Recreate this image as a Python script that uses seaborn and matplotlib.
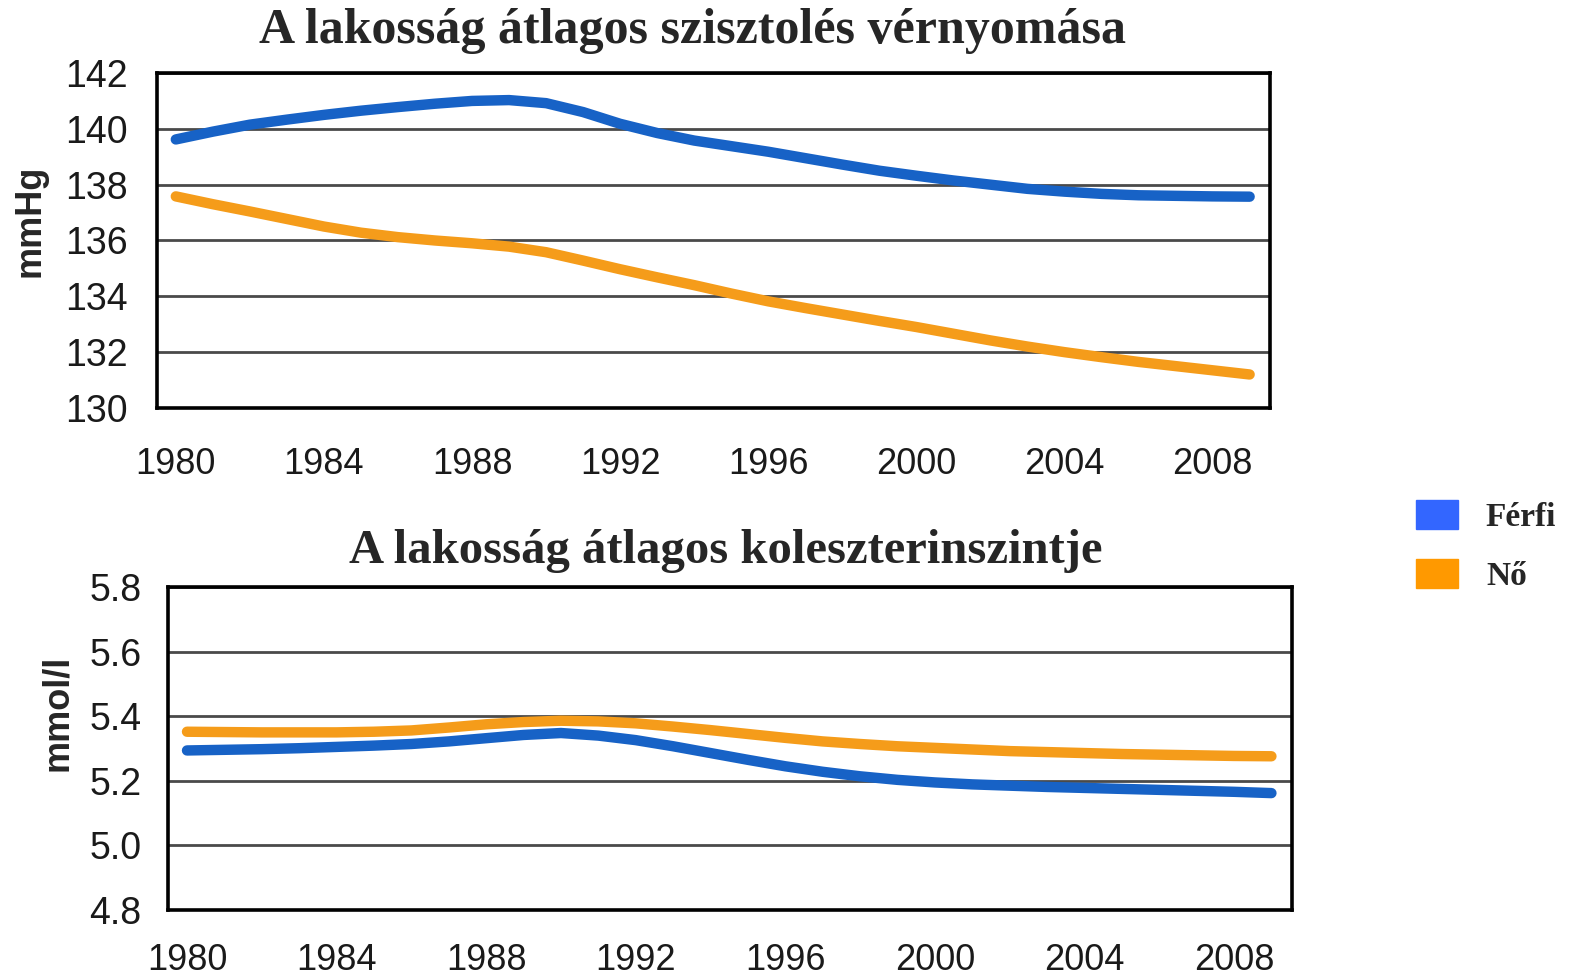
import numpy as np
import pandas as pd
import matplotlib.pyplot as plt
import seaborn as sns
from matplotlib.patches import Patch

# Data (one value per year)
years = list(range(1980, 2010))

bp_ferfi = [139.62, 139.90, 140.15, 140.33, 140.50, 140.65, 140.78, 140.90, 141.00, 141.03,
            140.92, 140.60, 140.18, 139.85, 139.58, 139.38, 139.18, 138.95, 138.72, 138.50,
            138.32, 138.15, 138.00, 137.85, 137.75, 137.67, 137.62, 137.60, 137.58, 137.57]
bp_no = [137.58, 137.30, 137.04, 136.77, 136.50, 136.28, 136.12, 136.00, 135.90, 135.78,
         135.58, 135.28, 134.97, 134.68, 134.40, 134.10, 133.82, 133.58, 133.35, 133.12,
         132.90, 132.66, 132.42, 132.20, 132.00, 131.82, 131.65, 131.50, 131.35, 131.20]

chol_ferfi = [5.294, 5.296, 5.298, 5.301, 5.305, 5.309, 5.314, 5.322, 5.332, 5.342,
              5.348, 5.340, 5.326, 5.307, 5.286, 5.265, 5.245, 5.228, 5.214, 5.203,
              5.195, 5.189, 5.185, 5.181, 5.178, 5.175, 5.172, 5.169, 5.166, 5.162]
chol_no = [5.352, 5.351, 5.350, 5.350, 5.350, 5.352, 5.356, 5.365, 5.375, 5.382,
           5.386, 5.384, 5.378, 5.368, 5.357, 5.345, 5.333, 5.322, 5.314, 5.307,
           5.302, 5.297, 5.292, 5.289, 5.286, 5.283, 5.281, 5.279, 5.277, 5.276]

series_names = ['Férfi', 'Nő']
line_colors = ['#1762c6', '#f59c1a']
legend_colors = ['#3366ff', '#ff9900']

x_ticks = [1980, 1984, 1988, 1992, 1996, 2000, 2004, 2008]
bp_ticks = [130, 132, 134, 136, 138, 140, 142]
chol_ticks = [4.8, 5.0, 5.2, 5.4, 5.6, 5.8]

bp_title = 'A lakosság átlagos szisztolés vérnyomása'
chol_title = 'A lakosság átlagos koleszterinszintje'

# long-form tables for seaborn
bp_df = pd.DataFrame({
    'Év': years * 2,
    'Érték': bp_ferfi + bp_no,
    'Nem': [series_names[0]] * len(years) + [series_names[1]] * len(years),
})
chol_df = pd.DataFrame({
    'Év': years * 2,
    'Érték': chol_ferfi + chol_no,
    'Nem': [series_names[0]] * len(years) + [series_names[1]] * len(years),
})

sns.set_style('white')
plt.rcParams['font.family'] = ['Liberation Sans', 'DejaVu Sans']

palette = dict(zip(series_names, line_colors))

fig = plt.figure(figsize=(15.71, 9.8), dpi=100)
ax1 = fig.add_axes([0.0999, 0.5837, 0.7085, 0.3418])
ax2 = fig.add_axes([0.1069, 0.0714, 0.7155, 0.3296])


def style_axes(ax, yticks, fmt, ylabel, label_x, label_y, xpad, ypad):
    ax.set_xlim(1979.49, 2009.55)
    ax.set_ylim(yticks[0], yticks[-1])
    ax.set_xticks(x_ticks)
    ax.set_xticklabels([str(t) for t in x_ticks])
    ax.set_yticks(yticks)
    ax.set_yticklabels([fmt.format(t) for t in yticks])
    ax.grid(axis='y', color='#4a4a4a', linewidth=2.0)
    ax.set_axisbelow(True)
    for sp in ax.spines.values():
        sp.set_visible(True)
        sp.set_color('black')
        sp.set_linewidth(2.6)
    ax.tick_params(axis='x', length=0, pad=xpad, labelsize=26, colors='#1a1a1a')
    ax.tick_params(axis='y', length=0, pad=ypad, labelsize=27, colors='#1a1a1a')
    ax.set_xlabel('')
    ax.set_ylabel(ylabel, fontsize=26, fontweight='bold')
    ax.yaxis.set_label_coords(label_x, label_y)
    for line in ax.lines:
        line.set_solid_capstyle('round')
        line.set_solid_joinstyle('round')


sns.lineplot(data=bp_df, x='Év', y='Érték', hue='Nem', palette=palette,
             linewidth=7.5, legend=False, ax=ax1)
style_axes(ax1, bp_ticks, '{:d}', 'mmHg', -0.098, 0.56, 28, 21)

sns.lineplot(data=chol_df, x='Év', y='Érték', hue='Nem', palette=palette,
             linewidth=7.5, legend=False, ax=ax2)
style_axes(ax2, chol_ticks, '{:.1f}', 'mmol/l', -0.083, 0.61, 24, 19)

fig.text(0.441, 0.968, bp_title, ha='center', va='center', fontsize=36,
         fontweight='bold', family=['Liberation Serif', 'DejaVu Serif'])
fig.text(0.462, 0.438, chol_title, ha='center', va='center', fontsize=35,
         fontweight='bold', family=['Liberation Serif', 'DejaVu Serif'])

handles = [Patch(facecolor=c, edgecolor=c) for c in legend_colors]
fig.legend(handles, series_names, loc='upper left', bbox_to_anchor=(0.9013, 0.4899),
           frameon=False, borderpad=0, borderaxespad=0, handlelength=1.26, handleheight=0.95,
           handletextpad=0.84, labelspacing=0.8,
           prop={'family': ['Liberation Serif', 'DejaVu Serif'], 'weight': 'bold', 'size': 24})

fig.savefig('out.png', dpi=100)
